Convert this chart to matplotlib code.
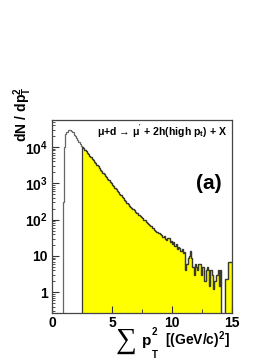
import numpy as np
import matplotlib
matplotlib.use("Agg")
import matplotlib.pyplot as plt
from matplotlib.ticker import FixedLocator, FixedFormatter, MultipleLocator, NullFormatter

plt.rcParams['font.family'] = ['Liberation Sans', 'DejaVu Sans']
plt.rcParams['font.weight'] = 'bold'
plt.rcParams['mathtext.fontset'] = 'custom'
plt.rcParams['mathtext.rm'] = 'Liberation Sans:bold'
plt.rcParams['mathtext.it'] = 'Liberation Sans:bold'
plt.rcParams['mathtext.bf'] = 'Liberation Sans:bold'
plt.rcParams['mathtext.default'] = 'rm'

# 0.1-wide bins from 0 to 15, counts
bin_edges = np.round(np.arange(0, 15.01, 0.1), 2)
counts = [
    0, 0, 0, 0, 0, 0, 0, 0, 0, 300,                                  # 0.0-0.9
    10000, 22000, 26500, 28500, 29500, 29000, 27500, 25500, 21500, 19500,  # 1.0-1.9
    17500, 15500, 13800, 12200, 10800, 10000, 9100, 8200, 7500, 6850,      # 2.0-2.9
    6200, 5600, 5150, 4650, 4250, 3850, 3500, 3200, 2900, 2620,            # 3.0-3.9
    2380, 2170, 1960, 1800, 1620, 1470, 1340, 1220, 1100, 1010,            # 4.0-4.9
    905, 830, 750, 690, 620, 565, 520, 470, 425, 390,                      # 5.0-5.9
    350, 320, 295, 265, 240, 220, 205, 190, 180, 165,                      # 6.0-6.9
    152, 148, 132, 126, 115, 110, 98, 95, 84, 82,                          # 7.0-7.9
    76, 70, 67, 58, 60, 53, 50, 47, 42, 44,                                # 8.0-8.9
    39, 37, 33, 35, 30, 27, 31, 32, 24, 26,                                # 9.0-9.9
    22, 24, 19, 21, 16, 18, 17, 14, 16, 12,                                # 10.0-10.9
    13, 4, 6, 9, 10, 14, 9, 5, 3, 6,                                       # 11.0-11.9
    5, 4, 6, 6, 3, 5, 5, 2, 4, 5,                                          # 12.0-12.9
    4, 1.5, 4, 3, 1.2, 2, 2, 3, 4, 1.5,                                    # 13.0-13.9
    4, 0, 0, 0, 2.3, 2.3, 2.3, 7, 7, 7,                                    # 14.0-14.9
]
cut_low = 2.5  # yellow part starts here

y_ticks = [1, 10, 100, 1000, 10000]
y_tick_labels = ['1', '10', r'$10^{2}$', r'$10^{3}$', r'$10^{4}$']
x_ticks = [0, 5, 10, 15]

counts = np.array(counts, dtype=float)
centers = 0.5 * (bin_edges[:-1] + bin_edges[1:])
sel = np.where(centers > cut_low, counts, 0.0)
floor = 1e-3
draw_all = np.where(counts > 0, counts, floor)
draw_sel = np.where(sel > 0, sel, floor)

fig = plt.figure(figsize=(2.79, 3.61), dpi=100)
ax = fig.add_axes([52 / 279, 48 / 361, 180 / 279, 193 / 361])

ax.stairs(draw_sel, bin_edges, baseline=floor, fill=True, color='#ffff00', zorder=1)
ax.stairs(draw_sel, bin_edges, baseline=floor, color='#3a3a2a', lw=0.9, zorder=2)
ax.stairs(draw_all, bin_edges, baseline=None, color='#666666', lw=0.9, zorder=1.5)

ax.set_yscale('log')
ax.set_xlim(0, 15)
ax.set_ylim(0.27, 55000)

ax.xaxis.set_major_locator(FixedLocator(x_ticks))
ax.xaxis.set_minor_locator(MultipleLocator(2.5))
ax.yaxis.set_major_locator(FixedLocator(y_ticks))
ax.yaxis.set_major_formatter(FixedFormatter(y_tick_labels))
minors = [m * 10.0 ** e for e in range(-1, 5) for m in range(2, 10)]
ax.yaxis.set_minor_locator(FixedLocator(minors))
ax.yaxis.set_minor_formatter(NullFormatter())

ax.tick_params(which='both', direction='in', top=False, right=False,
               labelsize=10, colors='#333333', labelcolor='black')
ax.tick_params(axis='x', which='major', length=5, pad=2)
ax.tick_params(axis='x', which='minor', length=3)
ax.tick_params(axis='y', which='major', length=5, pad=3)
ax.tick_params(axis='y', which='minor', length=2.5)
for s in ax.spines.values():
    s.set_color('#444444')
    s.set_linewidth(0.9)

# y label
fig.text(23 / 279, 1 - 114 / 361, r'$dN\ /\ dp^{2}_{T}$', rotation=90,
         ha='center', va='center', fontsize=10)

# x label pieces
fig.text(126 / 279, 1 - 341 / 361, '\u2211', family='Liberation Serif',
         fontweight='normal', fontsize=21, ha='center', va='center')
fig.text(142 / 279, 1 - 341 / 361, 'p', fontsize=11, ha='left', va='center')
fig.text(152 / 279, 1 - 332 / 361, '2', fontsize=7, ha='left', va='center')
fig.text(152 / 279, 1 - 355 / 361, 'T', fontsize=7, ha='left', va='center')
fig.text(165 / 279, 1 - 340 / 361, r'[(GeV/c)$^{2}$]', fontsize=10,
         ha='left', va='center')

# reaction label and panel tag
ax.text(0.25, 0.943, "\u03bc+d \u2192 \u03bc$^{'}$ + 2h(high p$_{t}$) + X",
        transform=ax.transAxes, fontsize=7.6, ha='left', va='center')
ax.text(0.945, 0.67, '(a)', transform=ax.transAxes, fontsize=15,
        ha='right', va='center')

fig.savefig('out.png', dpi=100)
